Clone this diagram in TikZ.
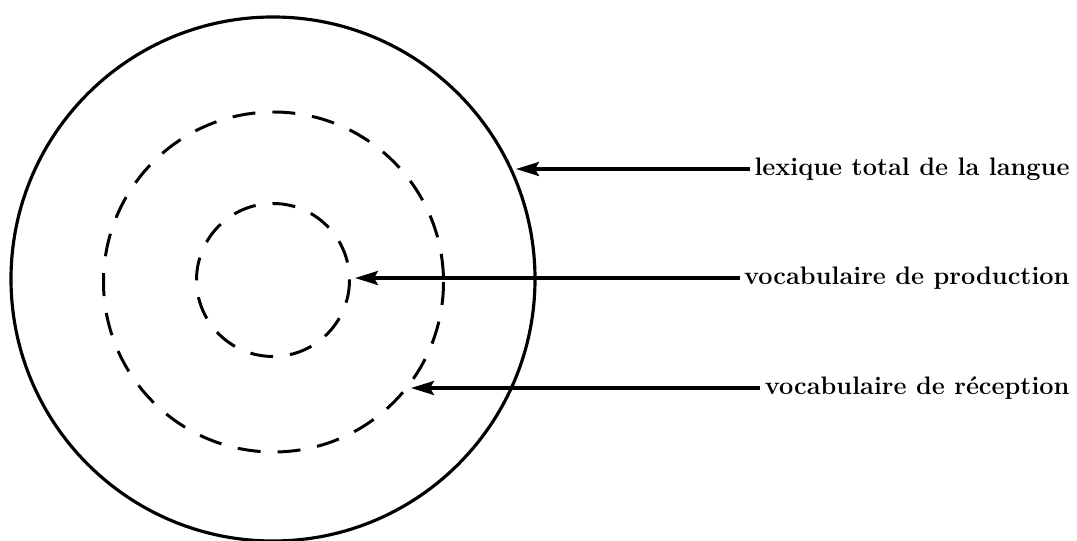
\documentclass[tikz,border=0pt]{standalone}
\usepackage{tikz}
\usetikzlibrary{arrows.meta,positioning}
\tikzset{
  ar/.style={-{Stealth[length=4.6mm,width=2.8mm,inset=0.8mm]},line width=1.9pt},
  rim/.style={line width=1.8pt},
  dsh/.style={line width=1.7pt,dash pattern=on 4.6mm off 3.4mm},
  lbl/.style={anchor=east,inner sep=0pt,outer sep=0.9mm,font=\bfseries\fontsize{14.4}{17}\selectfont}
}
\begin{document}
\begin{tikzpicture}[x=0.2mm,y=-0.2mm]
\useasboundingbox (0,0) rectangle (1077,541);
% the three vocabularies
\coordinate (C) at (273,279);
\draw[rim] (C) circle[radius=262];
\draw[dsh] (273.5,282) circle[radius=170];
\draw[dsh] (273,280) circle[radius=76.5];
% labels
\node[lbl] (lex) at (1074,169) {lexique total de la langue};
\node[lbl] (prod) at (1074,278) {vocabulaire de production};
\node[lbl] (rec) at (1074,388) {vocabulaire de réception};
\coordinate (tlex) at (516,169);
\coordinate (tprod) at (355,278);
\coordinate (trec) at (411,388);
\draw[ar] (lex.west) -- (tlex);
\draw[ar] (prod.west) -- (tprod);
\draw[ar] (rec.west) -- (trec);
\end{tikzpicture}
\end{document}
